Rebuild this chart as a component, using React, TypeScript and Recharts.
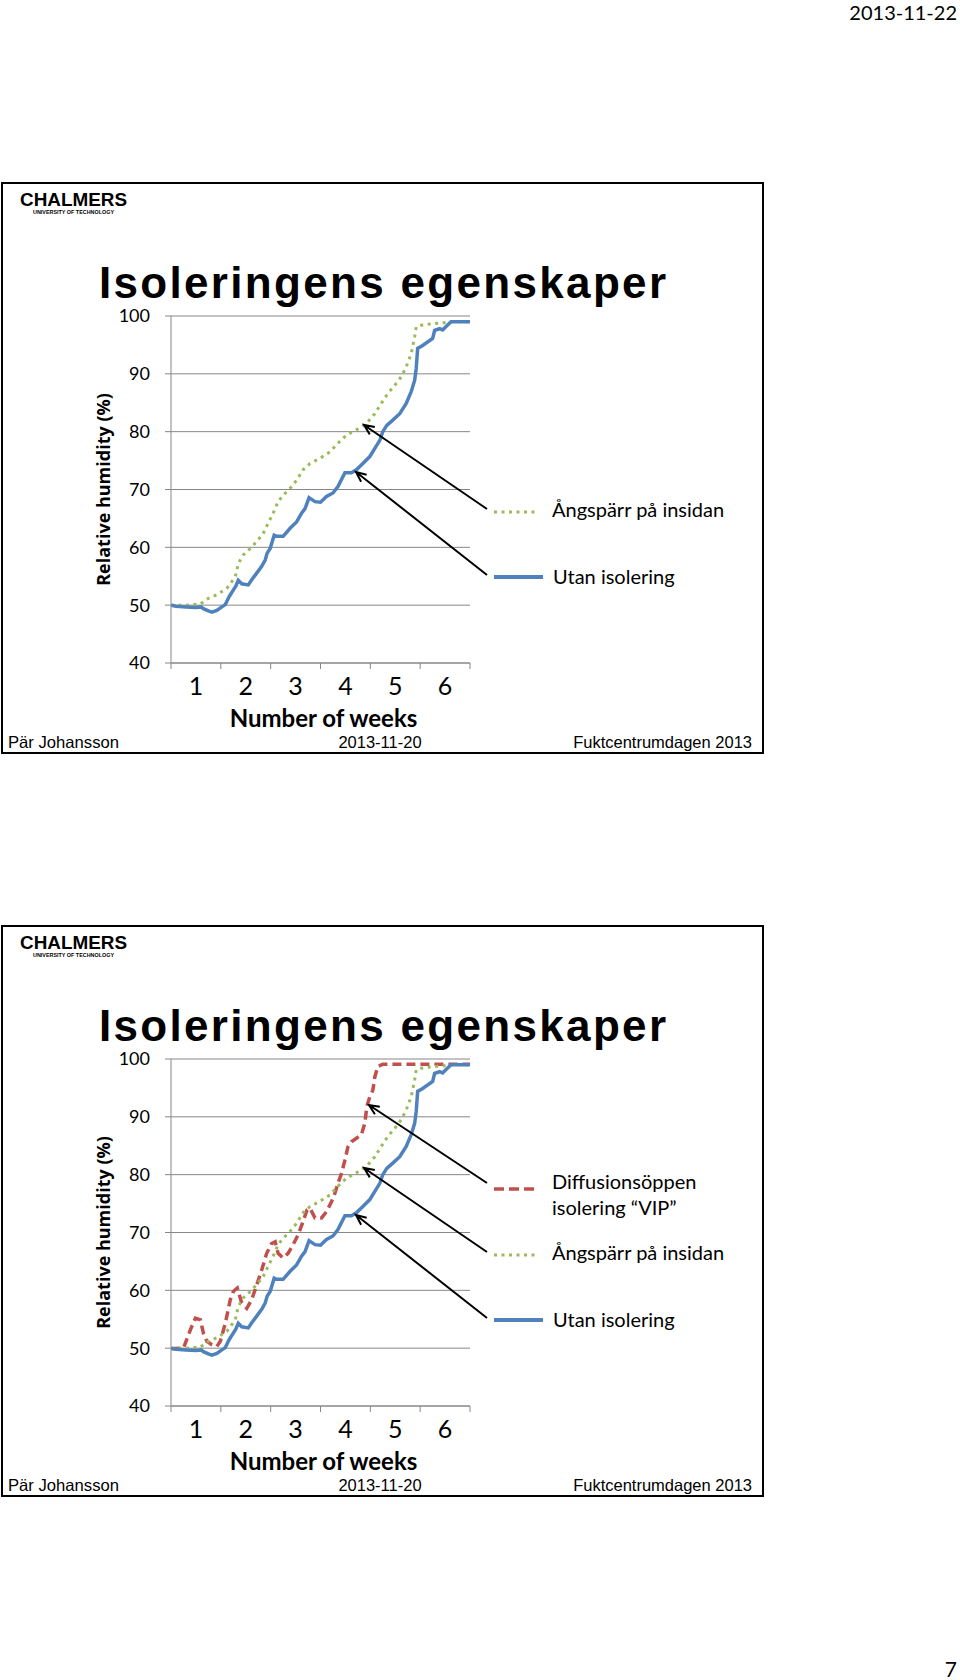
import React from 'react';
import { LineChart, Line, XAxis, YAxis, CartesianGrid } from 'recharts';

// ---------- data (week, relative humidity %) ----------
const utanIsolering: [number, number][] = [
  [0, 50], [0.1, 49.8], [0.3, 49.7], [0.5, 49.6], [0.6, 49.7], [0.65, 49.4], [0.75, 49.0], [0.82, 48.8],
  [0.92, 49.1], [1.02, 49.7], [1.09, 50.1], [1.15, 51.2], [1.19, 51.8], [1.25, 52.6], [1.3, 53.3],
  [1.35, 54.3], [1.42, 53.7], [1.55, 53.5], [1.62, 54.4], [1.69, 55.2], [1.82, 56.7], [1.89, 57.8],
  [1.93, 59.0], [1.99, 59.8], [2.07, 62.1], [2.12, 61.9], [2.25, 61.9], [2.39, 63.3], [2.52, 64.4],
  [2.62, 65.9], [2.69, 66.7], [2.77, 68.6], [2.89, 67.9], [3.0, 67.8], [3.12, 68.8], [3.25, 69.4],
  [3.35, 70.5], [3.49, 72.9], [3.62, 72.9], [3.72, 73.4], [3.85, 74.5], [3.99, 75.7], [4.09, 77.1],
  [4.19, 78.5], [4.25, 80.0], [4.33, 81.1], [4.45, 82.0], [4.59, 83.1], [4.72, 84.9], [4.82, 86.9],
  [4.89, 88.9], [4.92, 90.9], [4.95, 94.4], [5.05, 94.9], [5.25, 96.1], [5.29, 97.5], [5.39, 97.8],
  [5.45, 97.6], [5.52, 98.2], [5.62, 99.0], [6.0, 99.0],
];

const angsparrInsidan: [number, number][] = [
  [0, 50], [0.3, 50], [0.59, 50.2], [0.75, 51.2], [0.92, 51.8], [1.12, 52.9], [1.29, 54.9], [1.35, 57.2],
  [1.45, 58.7], [1.59, 59.8], [1.72, 61], [1.85, 62.4], [1.95, 64.2], [2.05, 65.9], [2.15, 67.9],
  [2.25, 69], [2.39, 70.2], [2.52, 71.6], [2.65, 73.4], [2.79, 74.5], [2.99, 75.4], [3.19, 76.5],
  [3.35, 78], [3.52, 79.4], [3.65, 80], [3.82, 80.8], [3.95, 81.7], [4.09, 83.1], [4.22, 84.9],
  [4.35, 86.6], [4.49, 88], [4.62, 89.5], [4.72, 91.2], [4.82, 93.5], [4.89, 96.4], [4.92, 98.1],
  [5.02, 98.4], [5.19, 98.6], [5.45, 98.8], [5.59, 99], [6, 99],
];

const diffusionsoppenVip: [number, number][] = [
  [0, 49.9], [0.25, 50], [0.39, 53.2], [0.49, 55.2], [0.59, 54.9], [0.65, 52.6], [0.72, 51.2], [0.82, 50.6],
  [0.92, 50.3], [0.99, 51.2], [1.09, 54.3], [1.19, 58.4], [1.25, 59.8], [1.33, 60.4], [1.42, 57.8],
  [1.52, 56.9], [1.62, 58.4], [1.72, 60.9], [1.82, 63.5], [1.92, 66.4], [2.02, 68.1], [2.09, 68.4],
  [2.15, 66.4], [2.25, 65.6], [2.35, 66.4], [2.45, 67.9], [2.55, 69.6], [2.65, 71.9], [2.73, 73.9],
  [2.79, 74.2], [2.89, 72.5], [3.02, 72.5], [3.12, 73.6], [3.22, 75.3], [3.29, 76.8], [3.35, 78.5],
  [3.42, 80.2], [3.49, 82.5], [3.55, 84.8], [3.62, 85.7], [3.72, 86.3], [3.82, 86.9], [3.89, 88.9],
  [3.93, 91.8], [3.99, 93.5], [4.05, 94.6], [4.09, 96.9], [4.15, 98.7], [4.25, 99.1], [6, 99.1],
];

const weekTicks = [0, 0.5, 1, 1.5, 2, 2.5, 3, 3.5, 4, 4.5, 5, 5.5, 6];
const weekLabels = ['1', '2', '3', '4', '5', '6'];
const rhTicks = [40, 50, 60, 70, 80, 90, 100];

const slideTitle = 'Isoleringens egenskaper';
const yTitle = 'Relative humidity (%)';
const xTitle = 'Number of weeks';
const legendVip = ['Diffusionsöppen', 'isolering “VIP”'];
const legendAngsparr = 'Ångspärr på insidan';
const legendUtan = 'Utan isolering';

// ---------- styling ----------
const GRID = '#878787';
const BLUE = '#4f81bd';
const RED = '#c0504d';
const GREEN = '#9bbb59';
const CAL = 'Lato, "Open Sans", sans-serif';
const ARIAL = '"Liberation Sans", Arial, sans-serif';

const toRows = (s: [number, number][]) => s.map(([week, rh]) => ({ week, rh }));
const utanData = toRows(utanIsolering);
const angData = toRows(angsparrInsidan);
const vipData = toRows(diffusionsoppenVip);

function WeekTick(props: any) {
  const { x, y, payload } = props;
  const v = payload.value as number;
  if (Number.isInteger(v)) {
    return <line x1={x} y1={y - 6} x2={x} y2={y} stroke={GRID} strokeWidth={1} />;
  }
  return (
    <text x={x} y={y + 26} textAnchor="middle" fontFamily={CAL} fontSize={25} fill="#000">
      {weekLabels[Math.floor(v)]}
    </text>
  );
}

function YLabel(props: any) {
  const vb = props.viewBox || { x: 0, y: 16, width: 81, height: 347 };
  const x = vb.x + 13;
  const y = vb.y + vb.height / 2;
  return (
    <text x={x} y={y} transform={`rotate(-90 ${x} ${y})`} textAnchor="middle" dominantBaseline="central"
      fontFamily='"Open Sans", sans-serif' fontWeight={700} fontSize={18} fill="#000">
      {yTitle}
    </text>
  );
}

function XLabel(props: any) {
  const vb = props.viewBox || { x: 81, y: 363, width: 299, height: 80 };
  return (
    <text x={vb.x + vb.width / 2 + 3} y={vb.y + 64} textAnchor="middle" fontFamily={CAL} fontWeight={700}
      fontSize={24} fill="#000">
      {xTitle}
    </text>
  );
}

function Arrow({ x1, y1, x2, y2 }: { x1: number; y1: number; x2: number; y2: number }) {
  const ang = Math.atan2(y2 - y1, x2 - x1);
  const L = 11;
  const a = 0.42;
  const hx1 = x2 - L * Math.cos(ang - a);
  const hy1 = y2 - L * Math.sin(ang - a);
  const hx2 = x2 - L * Math.cos(ang + a);
  const hy2 = y2 - L * Math.sin(ang + a);
  return (
    <path d={`M${x1},${y1} L${x2},${y2} M${hx1},${hy1} L${x2},${y2} L${hx2},${hy2}`} stroke="#000"
      strokeWidth={2} fill="none" />
  );
}

function Slide({ top, withVip }: { top: number; withVip: boolean }) {
  return (
    <div style={{ position: 'absolute', left: 0, top, width: 960, height: 572 }}>
      <div style={{ position: 'absolute', left: 1, top: 0, width: 763, height: 572, border: '2px solid #000',
        boxSizing: 'border-box', background: '#fff' }} />
      <div style={{ position: 'absolute', left: 90, top: 118 }}>
        <LineChart width={400} height={443} margin={{ top: 16, right: 20, left: 0, bottom: 0 }}>
          <CartesianGrid horizontal vertical={false} stroke={GRID} strokeWidth={1} />
          <XAxis dataKey="week" type="number" domain={[0, 6]} ticks={weekTicks} interval={0}
            allowDataOverflow tickSize={6} tickMargin={0} tickLine={false} tick={<WeekTick />}
            axisLine={{ stroke: GRID, strokeWidth: 1 }} height={80} label={<XLabel />} />
          <YAxis type="number" domain={[40, 100]} ticks={rhTicks} interval={0} width={81} tickSize={6}
            tickMargin={15} tickLine={{ stroke: GRID }} axisLine={{ stroke: GRID, strokeWidth: 1 }}
            tick={{ fill: '#000', fontSize: 18, fontFamily: CAL }} label={<YLabel />} />
          {withVip && (
            <Line data={vipData} dataKey="rh" type="linear" stroke={RED} strokeWidth={3.5}
              strokeDasharray="9 5" dot={false} isAnimationActive={false} />
          )}
          <Line data={angData} dataKey="rh" type="linear" stroke={GREEN} strokeWidth={3}
            strokeDasharray="3 4.5" dot={false} isAnimationActive={false} />
          <Line data={utanData} dataKey="rh" type="linear" stroke={BLUE} strokeWidth={3.5}
            dot={false} isAnimationActive={false} />
        </LineChart>
      </div>
      <svg width={960} height={572} style={{ position: 'absolute', left: 0, top: 0, overflow: 'visible' }}>
        <text x={20} y={24} fontFamily={ARIAL} fontWeight={700} fontSize={19} fill="#000"
          textLength={107} lengthAdjust="spacingAndGlyphs">CHALMERS</text>
        <text x={33} y={32} fontFamily={ARIAL} fontWeight={700} fontSize={5.5} fill="#000"
          textLength={81} lengthAdjust="spacingAndGlyphs">UNIVERSITY OF TECHNOLOGY</text>
        <text x={99} y={116} fontFamily={ARIAL} fontWeight={700} fontSize={44} fill="#000"
          textLength={567} lengthAdjust="spacing">{slideTitle}</text>

        {withVip && (
          <g>
            <Arrow x1={487} y1={258} x2={369} y2={180} />
            <line x1={494} y1={264} x2={537} y2={264} stroke={RED} strokeWidth={3.5} strokeDasharray="10 5" />
            <text x={552} y={264} fontFamily={CAL} fontSize={20} fill="#000">{legendVip[0]}</text>
            <text x={552} y={290} fontFamily={CAL} fontSize={20} fill="#000">{legendVip[1]}</text>
          </g>
        )}
        <Arrow x1={487} y1={327} x2={364} y2={243} />
        <Arrow x1={487} y1={393} x2={356} y2={290} />
        <line x1={494} y1={330} x2={539} y2={330} stroke={GREEN} strokeWidth={3} strokeDasharray="3 4.5" />
        <text x={552} y={335} fontFamily={CAL} fontSize={20} fill="#000">{legendAngsparr}</text>
        <line x1={494} y1={395} x2={543} y2={395} stroke={BLUE} strokeWidth={4} />
        <text x={553} y={402} fontFamily={CAL} fontSize={20} fill="#000">{legendUtan}</text>

        <text x={8} y={566} fontFamily={ARIAL} fontSize={16.5} fill="#000" textLength={111}
          lengthAdjust="spacingAndGlyphs">Pär Johansson</text>
        <text x={380} y={566} textAnchor="middle" fontFamily={ARIAL} fontSize={16.5} fill="#000">2013-11-20</text>
        <text x={752} y={566} textAnchor="end" fontFamily={ARIAL} fontSize={16.5} fill="#000">Fuktcentrumdagen 2013</text>
      </svg>
    </div>
  );
}

export default function App() {
  return (
    <div style={{ position: 'absolute', left: 0, top: 0, width: 960, height: 1680, background: '#fff' }}>
      <svg width={960} height={40} style={{ position: 'absolute', left: 0, top: 0 }}>
        <text x={957} y={20} textAnchor="end" fontFamily={CAL} fontSize={20} fill="#000">2013-11-22</text>
      </svg>
      <Slide top={182} withVip={false} />
      <Slide top={925} withVip={true} />
      <svg width={960} height={40} style={{ position: 'absolute', left: 0, top: 1640 }}>
        <text x={957} y={37} textAnchor="end" fontFamily={CAL} fontSize={21} fill="#000">7</text>
      </svg>
    </div>
  );
}
